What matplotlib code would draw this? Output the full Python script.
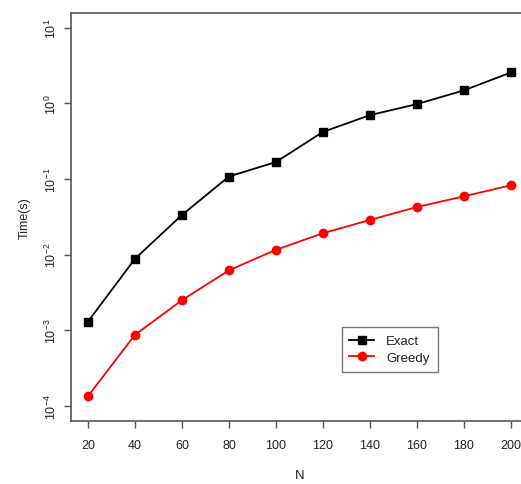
import matplotlib
matplotlib.use("Agg")
import matplotlib.pyplot as plt
from matplotlib.ticker import LogLocator, NullLocator

# values
n_vals = [20, 40, 60, 80, 100, 120, 140, 160, 180, 200]
exact_time = [1.3e-3, 8.8e-3, 0.0335, 0.108, 0.168, 0.42, 0.70, 0.98, 1.49, 2.57]
greedy_time = [1.34e-4, 8.7e-4, 2.5e-3, 6.2e-3, 0.0116, 0.0192, 0.0288, 0.0427, 0.0591, 0.0828]
x_ticks = [20, 40, 60, 80, 100, 120, 140, 160, 180, 200]

plt.rcParams["font.family"] = ["Liberation Sans", "DejaVu Sans"]
plt.rcParams["mathtext.fontset"] = "custom"
plt.rcParams["mathtext.rm"] = "Liberation Sans"
plt.rcParams["mathtext.it"] = "Liberation Sans"
plt.rcParams["axes.unicode_minus"] = False

text_col = "#222222"
axis_col = "#555555"

fig = plt.figure(figsize=(5.21, 4.85), dpi=100)
# the original is cropped on the right, so the axes run past the figure edge
ax = fig.add_axes([0.1363, 0.1299, 0.877, 0.8419])

ax.plot(n_vals, exact_time, color="black", marker="s", markersize=6.3,
        linewidth=1.3, label="Exact")
ax.plot(n_vals, greedy_time, color="red", marker="o", markersize=6.0,
        linewidth=1.3, label="Greedy")

ax.set_yscale("log")
ax.set_xlim(12.8, 207.2)
ax.set_ylim(10 ** -4.2, 10 ** 1.2)
ax.set_xticks(x_ticks)
ax.yaxis.set_major_locator(LogLocator(base=10, numticks=10))
ax.yaxis.set_minor_locator(NullLocator())

for s in ax.spines.values():
    s.set_color(axis_col)
    s.set_linewidth(1.2)

ax.tick_params(axis="both", direction="out", length=5, width=1.0,
               color=axis_col, labelcolor=text_col, labelsize=9)
ax.tick_params(axis="x", pad=8)
ax.tick_params(axis="y", pad=4, labelrotation=90)
for lbl in ax.get_yticklabels():
    lbl.set_va("center")

ax.set_xlabel("N", fontsize=9.5, color=text_col, labelpad=13)
ax.set_ylabel("Time(s)", fontsize=9, color=text_col, labelpad=9)

leg = ax.legend(loc="upper left", bbox_to_anchor=(0.592, 0.2295),
                frameon=True, fancybox=False, fontsize=9.5,
                handlelength=1.9, borderpad=0.6, borderaxespad=0,
                labelspacing=0.3, handletextpad=0.9)
leg.get_frame().set_edgecolor(axis_col)
leg.get_frame().set_linewidth(1.0)
for t in leg.get_texts():
    t.set_color(text_col)

fig.savefig("out.png", dpi=100)
